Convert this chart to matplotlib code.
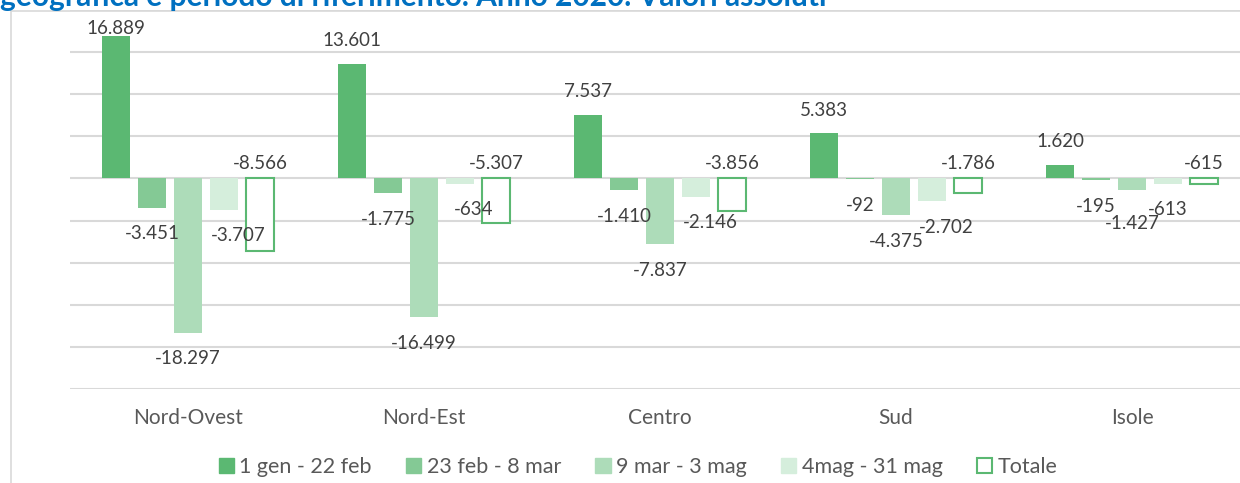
import numpy as np
import matplotlib
matplotlib.use("Agg")
import matplotlib.pyplot as plt
from matplotlib.patches import Rectangle, Patch

# ── Data ─────────────────────────────────────────────────────────────────────
regions = ["Nord-Ovest", "Nord-Est", "Centro", "Sud", "Isole"]
series_names = ["1 gen - 22 feb", "23 feb - 8 mar", "9 mar - 3 mag",
                "4mag - 31 mag", "Totale"]
p1 = [16889, 13601, 7537, 5383, 1620]
p2 = [-3451, -1775, -1410, -92, -195]
p3 = [-18297, -16499, -7837, -4375, -1427]
p4 = [-3707, -634, -2146, -2702, -613]
totale = [-8566, -5307, -3856, -1786, -615]

title = "geografica e periodo di riferimento. Anno 2020. Valori assoluti"

# ── Style ────────────────────────────────────────────────────────────────────
plt.rcParams["font.family"] = ["Lato", "DejaVu Sans"]
fills = ["#5BB872", "#84C995", "#ADDCB9", "#D5EEDC", "white"]
green = "#5BB872"
grid_c = "#D9D9D9"
lab_c = "#404040"

W, H = 1240, 483
fig = plt.figure(figsize=(W / 100, H / 100), dpi=100)
ax = fig.add_axes([70 / W, 94 / H, 1180 / W, 379 / H])

YMIN, YMAX = -25000, 20000
upp = (YMAX - YMIN) / 379          # data units per pixel (vertical)
xpp = 1 / 236                      # data units per pixel (horizontal)

x = np.arange(len(regions))
step, width = 0.1525, 0.1186
all_series = [p1, p2, p3, p4, totale]


def fmt(v):
    return f"{v:,}".replace(",", ".")


for i, vals in enumerate(all_series):
    xs = x + (i - 2) * step
    if i == 4:
        ax.bar(xs, vals, width, facecolor="white", edgecolor=green,
               linewidth=1.5, zorder=3)
    else:
        ax.bar(xs, vals, width, color=fills[i], zorder=3)

    for j, (xx, v) in enumerate(zip(xs, vals)):
        dx = 0
        if i == 4:
            y = 15 * upp
        elif v >= 0:
            y = min(v + 23 * upp, 17800)
        else:
            y = v - 26 * upp
        # small manual nudges where labels were moved in the original
        if i == 3 and j < 4:
            dx = 14 * xpp
        if i == 2 and j == 4:
            y -= 7 * upp
        ax.text(xx + dx, y, fmt(v), ha="center", va="center",
                fontsize=13.5, color=lab_c, zorder=4)

ax.set_ylim(YMIN, YMAX)
ax.set_xlim(-0.5, len(regions) - 0.5)
ax.set_yticks(np.arange(YMIN, YMAX + 1, 5000))
ax.yaxis.grid(True, color=grid_c, linewidth=1.5)
ax.set_axisbelow(True)
ax.set_yticklabels([])
ax.set_xticks(x)
ax.set_xticklabels(regions, fontsize=15, color="#595959")
ax.tick_params(length=0, pad=14)
for s in ax.spines.values():
    s.set_visible(False)

# chart border (only top and left are inside the picture)
fig.patches.append(Rectangle((11 / W, -0.1), 2, 1 - 11 / H + 0.1,
                             transform=fig.transFigure, fill=False,
                             edgecolor=grid_c, linewidth=1.2))

# title is cut by the top edge, as in the source screenshot
fig.text(0, 1 - 6 / H, title, ha="left", va="baseline", fontsize=21.5,
         fontweight="bold", color="#0070C0")

handles = [Patch(facecolor=fills[k], edgecolor=fills[k]) for k in range(4)]
handles.append(Patch(facecolor="white", edgecolor=green, linewidth=1.5))
fig.legend(handles, series_names, loc="center", ncol=5,
           bbox_to_anchor=(638 / W, 1 - 467 / H), frameon=False,
           fontsize=15.5, labelcolor="#595959", handlelength=0.7,
           handleheight=0.7, handletextpad=0.25, columnspacing=1.6)

fig.savefig("out.png", dpi=100)
